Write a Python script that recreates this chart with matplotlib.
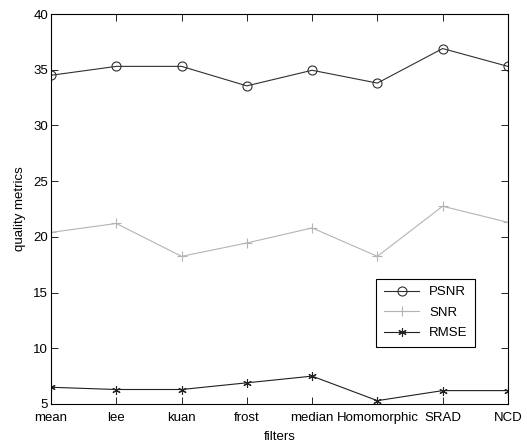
import matplotlib
matplotlib.use("Agg")
import matplotlib.pyplot as plt

plt.rcParams["font.family"] = ["Liberation Sans", "DejaVu Sans"]

filters = ["mean", "lee", "kuan", "frost", "median", "Homomorphic", "SRAD", "NCD"]
psnr = [34.5, 35.3, 35.3, 33.55, 34.95, 33.8, 36.9, 35.3]
snr = [20.4, 21.2, 18.25, 19.45, 20.8, 18.25, 22.75, 21.3]
rmse = [6.5, 6.3, 6.3, 6.9, 7.5, 5.3, 6.2, 6.2]

x = list(range(1, len(filters) + 1))

fig = plt.figure(figsize=(5.27, 4.46), dpi=100)
ax = fig.add_axes([0.0968, 0.0942, 0.867, 0.8744])

ax.plot(x, psnr, color="#303030", lw=0.8, marker="o", ms=6.5,
        mfc="none", mec="#303030", mew=0.8, label="PSNR")
ax.plot(x, snr, color="#b4b4b4", lw=0.8, marker="+", ms=7,
        mew=0.8, label="SNR")
ax.plot(x, rmse, color="#202020", lw=0.8, marker=(6, 2, 0), ms=6,
        mew=0.8, label="RMSE")

ax.set_xlim(1, 8)
ax.set_ylim(5, 40)
ax.set_xticks(x)
ax.set_xticklabels(filters)
ax.set_yticks(range(5, 41, 5))
ax.tick_params(direction="in", top=True, right=True, length=5,
               labelsize=9.5, width=0.6, pad=2)
ax.tick_params(axis="x", pad=5.5)
for s in ax.spines.values():
    s.set_linewidth(0.8)

ax.set_xlabel("filters", fontsize=9.5, labelpad=5)
ax.set_ylabel("quality metrics", fontsize=9.5, labelpad=5)

# matlab-style legend box sitting just inside the lower right
leg = ax.legend(loc="upper right", bbox_to_anchor=(0.928, 0.3205),
                borderaxespad=0, fontsize=9.5, fancybox=False, framealpha=1,
                edgecolor="black", handlelength=2.7, handletextpad=0.75,
                borderpad=0.55, labelspacing=0.62)
leg.get_frame().set_linewidth(0.8)

fig.savefig("out.png", dpi=100)
